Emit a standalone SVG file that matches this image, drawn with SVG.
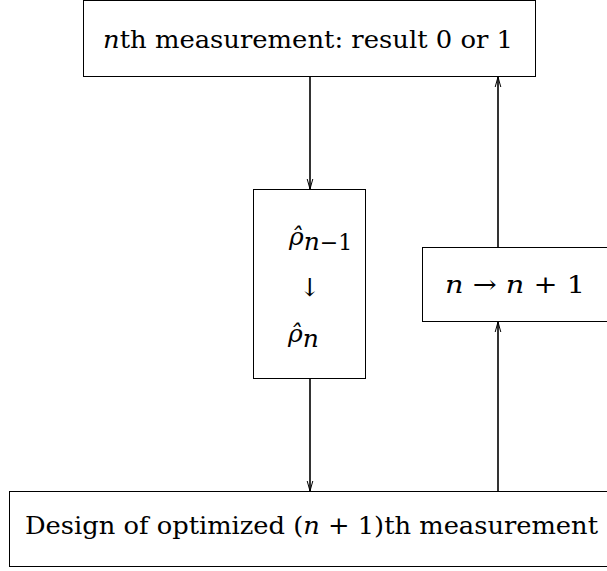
<svg xmlns="http://www.w3.org/2000/svg" width="607" height="571" viewBox="0 0 607 571">
<style>
.box{fill:#fff;stroke:#000;stroke-width:1}
.t{font-family:"DejaVu Serif",serif;font-size:25px;fill:#000}
.i{font-style:italic}
.c{stroke:#000;stroke-width:1.6;fill:none}
</style>
<defs>
<marker id="ah" viewBox="0 0 10 10" refX="10" refY="5" markerWidth="10" markerHeight="10" markerUnits="userSpaceOnUse" orient="auto">
<path d="M0,2.2 L10,5 L0,7.8" fill="none" stroke="#000" stroke-width="1"/>
</marker>
</defs>
<g id="connectors">
<line class="c" x1="310" y1="77" x2="310" y2="189" marker-end="url(#ah)"/>
<line class="c" x1="310" y1="379" x2="310" y2="491" marker-end="url(#ah)"/>
<line class="c" x1="498" y1="491" x2="498" y2="322" marker-end="url(#ah)"/>
<line class="c" x1="498" y1="247" x2="498" y2="77" marker-end="url(#ah)"/>
</g>
<g id="top">
<rect class="box" x="83.5" y="0.5" width="452" height="76"/>
<text class="t" x="103" y="48" textLength="410" lengthAdjust="spacingAndGlyphs"><tspan class="i">n</tspan>th measurement: result 0 or 1</text>
</g>
<g id="mid">
<rect class="box" x="253.5" y="189.5" width="112" height="189"/>
<text class="t" x="289" y="245" font-size="26"><tspan class="i">ρ̂</tspan><tspan class="i" dy="5">n</tspan><tspan font-size="22">−1</tspan></text>
<text class="t" x="310" y="296" text-anchor="middle" font-size="30">↓</text>
<text class="t" x="288" y="342" font-size="26"><tspan class="i">ρ̂</tspan><tspan class="i" dy="5">n</tspan></text>
</g>
<g id="incr">
<rect class="box" x="422.5" y="247.5" width="190" height="74"/>
<text class="t" x="445" y="293" textLength="140" lengthAdjust="spacingAndGlyphs"><tspan class="i">n</tspan> → <tspan class="i">n</tspan> + 1</text>
</g>
<g id="bottom">
<rect class="box" x="9.5" y="491.5" width="603" height="75"/>
<text class="t" x="25" y="534" textLength="573" lengthAdjust="spacingAndGlyphs">Design of optimized (<tspan class="i">n</tspan> + 1)th measurement</text>
</g>
</svg>
